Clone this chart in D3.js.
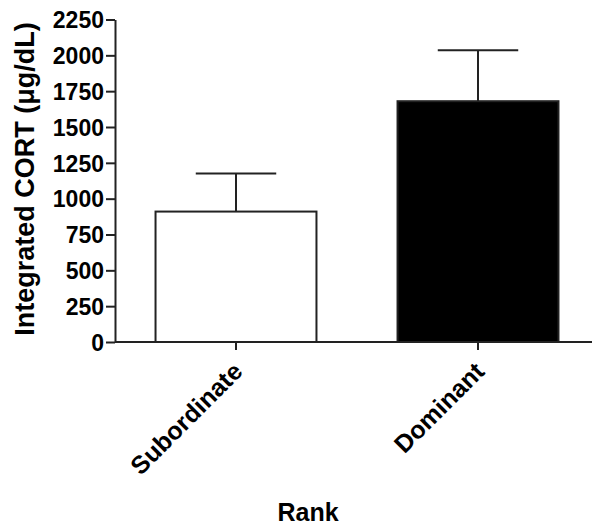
<!DOCTYPE html>
<html>
<head>
<meta charset="utf-8">
<script src="https://cdn.jsdelivr.net/npm/d3@7"></script>
<style>
  body { margin: 0; background: #fff; }
  text { font-family: "Liberation Sans", Arial, sans-serif; font-weight: bold; fill: #000; }
</style>
</head>
<body>
<div class="chart"></div>
<script>
// Chart data
var ranks = ["Subordinate", "Dominant"];
var cortMeans = [910, 1680];
var cortErrors = [265, 355];
var yTicks = [0, 250, 500, 750, 1000, 1250, 1500, 1750, 2000, 2250];

var svgWidth = 593;
var svgHeight = 527;

var svg = d3.select(".chart")
  .append("svg")
  .attr("width", svgWidth)
  .attr("height", svgHeight);

// Scales
var xBandScale = d3.scaleBand()
  .domain(ranks)
  .range([115, 599])
  .paddingInner(0.335)
  .paddingOuter(0.1675);

var yLinearScale = d3.scaleLinear()
  .domain([0, 2250])
  .range([342, 19.5]);

var barData = ranks.map((r, i) => ({ rank: r, mean: cortMeans[i], err: cortErrors[i] }));

// Error bars (drawn first so bars sit on top)
var errGroup = svg.append("g")
  .attr("stroke", "#222")
  .attr("stroke-width", 2);

errGroup.selectAll(".err-v")
  .data(barData)
  .enter()
  .append("line")
  .attr("x1", d => xBandScale(d.rank) + xBandScale.bandwidth() / 2)
  .attr("x2", d => xBandScale(d.rank) + xBandScale.bandwidth() / 2)
  .attr("y1", d => yLinearScale(d.mean))
  .attr("y2", d => yLinearScale(d.mean + d.err));

errGroup.selectAll(".err-cap")
  .data(barData)
  .enter()
  .append("line")
  .attr("x1", d => xBandScale(d.rank) + xBandScale.bandwidth() / 4)
  .attr("x2", d => xBandScale(d.rank) + xBandScale.bandwidth() * 3 / 4)
  .attr("y1", d => yLinearScale(d.mean + d.err))
  .attr("y2", d => yLinearScale(d.mean + d.err));

// Bars
svg.selectAll(".bar")
  .data(barData)
  .enter()
  .append("rect")
  .attr("class", "bar")
  .attr("x", d => xBandScale(d.rank))
  .attr("width", xBandScale.bandwidth())
  .attr("y", d => yLinearScale(d.mean))
  .attr("height", d => yLinearScale(0) - yLinearScale(d.mean))
  .style("fill", (d, i) => i == 0 ? "#fff" : "#000")
  .attr("stroke", "#222")
  .attr("stroke-width", 2);

// Y axis
var leftAxis = d3.axisLeft(yLinearScale)
  .tickValues(yTicks)
  .tickFormat(d3.format("d"))
  .tickSize(9)
  .tickSizeOuter(0)
  .tickPadding(2);

var yAxisG = svg.append("g")
  .attr("transform", "translate(115,0)")
  .call(leftAxis);
yAxisG.select(".domain").attr("stroke", "#222").attr("stroke-width", 2);
yAxisG.selectAll(".tick line").attr("stroke", "#222").attr("stroke-width", 2);
yAxisG.selectAll(".tick text")
  .style("font-size", "23px")
  .attr("dy", "0.36em");

// X axis
var xAxisG = svg.append("g")
  .attr("transform", "translate(0,342)");

xAxisG.append("line")
  .attr("x1", 115)
  .attr("x2", 592)
  .attr("stroke", "#222")
  .attr("stroke-width", 2);

xAxisG.selectAll(".xtick")
  .data(ranks)
  .enter()
  .append("line")
  .attr("x1", d => xBandScale(d) + xBandScale.bandwidth() / 2)
  .attr("x2", d => xBandScale(d) + xBandScale.bandwidth() / 2)
  .attr("y1", 0)
  .attr("y2", 8)
  .attr("stroke", "#222")
  .attr("stroke-width", 2);

xAxisG.selectAll(".xlabel")
  .data(ranks)
  .enter()
  .append("text")
  .attr("text-anchor", "end")
  .attr("transform", d => `translate(${xBandScale(d) + xBandScale.bandwidth() / 2 + 8}, 31) rotate(-45)`)
  .style("font-size", "25px")
  .text(d => d);

// Axis titles
svg.append("text")
  .attr("text-anchor", "middle")
  .attr("x", 308)
  .attr("y", 521)
  .style("font-size", "25px")
  .text("Rank");

svg.append("text")
  .attr("text-anchor", "middle")
  .attr("transform", "translate(34, 179) rotate(-90)")
  .style("font-size", "27px")
  .text("Integrated CORT (μg/dL)");
</script>
</body>
</html>
